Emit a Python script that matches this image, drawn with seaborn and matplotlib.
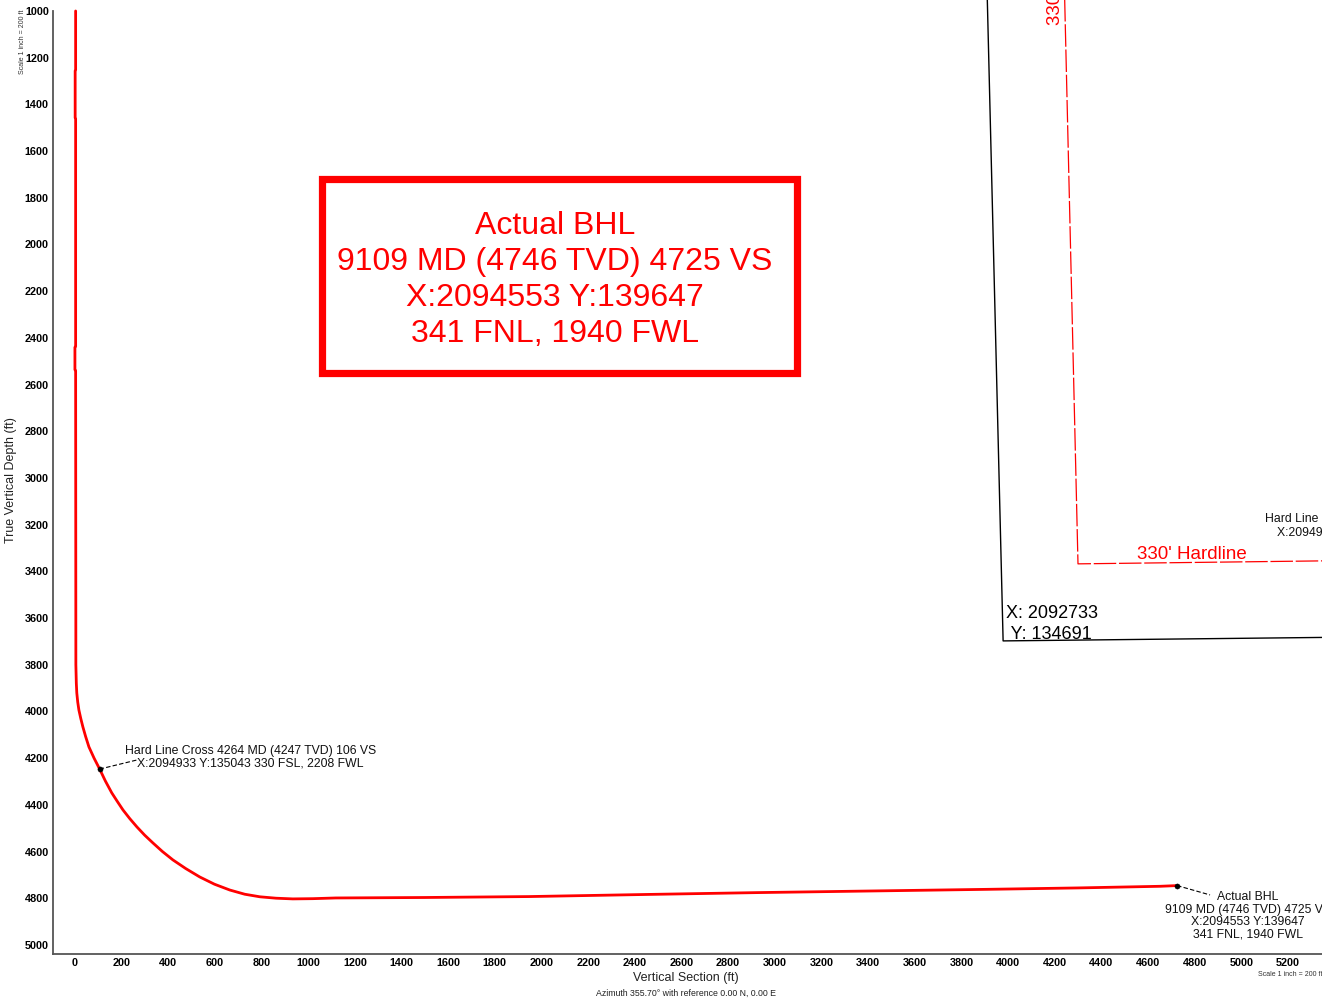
import matplotlib
matplotlib.use("Agg")
import matplotlib.pyplot as plt
import seaborn as sns
import pandas as pd
from matplotlib.patches import Rectangle

# ---------------- data ----------------
well_vs = [3, 3, 1, 1, 3, 3, 0, 0, 3, 4, 6, 8, 12, 17, 25, 34, 46, 60, 82, 106, 131, 158,
           182, 206, 235, 266, 299, 334, 375, 420, 475, 535, 598, 664, 728, 793, 862, 934,
           1020, 1118, 1500, 1947, 2450, 2928, 3420, 3914, 4300, 4652, 4725]
well_tvd = [1000, 1253, 1256, 1458, 1461, 2437, 2440, 2537, 2540, 3800, 3880, 3921, 3960,
            3994, 4030, 4066, 4108, 4152, 4200, 4247, 4299, 4349, 4386, 4422, 4459, 4495,
            4530, 4563, 4600, 4636, 4673, 4709, 4740, 4765, 4783, 4794, 4800, 4803, 4802,
            4799, 4797, 4793, 4784, 4776, 4769, 4762, 4756, 4749, 4746]

lease_vs = [3905, 3979, 5450]
lease_tvd = [700, 3698, 3682]

hard_vs = [4237, 4300, 5450]
hard_tvd = [700, 3368, 3354]

point_names = ["Hard Line Cross", "Actual BHL"]
point_vs = [106, 4725]
point_tvd = [4247, 4746]

x_ticks = list(range(0, 5400, 200))
y_ticks = list(range(1000, 5200, 200))

hlc_text = "Hard Line Cross 4264 MD (4247 TVD) 106 VS\nX:2094933 Y:135043 330 FSL, 2208 FWL"
bhl_text = "Actual BHL\n9109 MD (4746 TVD) 4725 VS\nX:2094553 Y:139647\n341 FNL, 1940 FWL"
corner_text = "X: 2092733\n Y: 134691"

# ---------------- style ----------------
sns.set_style("white")
plt.rcParams["font.family"] = ["Liberation Sans", "DejaVu Sans"]

W, H = 1322, 1000
fig = plt.figure(figsize=(W / 100, H / 100), dpi=100)
ax = fig.add_axes([53 / W, 46 / H, 1269 / W, 954 / H])
ax.set_xlim(-94, 5346)
ax.set_ylim(5039, 953)

well = pd.DataFrame({"vs": well_vs, "tvd": well_tvd})
sns.lineplot(data=well, x="vs", y="tvd", sort=False, estimator=None, color="#ff0000",
             lw=2.0, ax=ax, zorder=5)

lease = pd.DataFrame({"vs": lease_vs, "tvd": lease_tvd})
sns.lineplot(data=lease, x="vs", y="tvd", sort=False, estimator=None, color="black",
             lw=1.0, ax=ax, zorder=3)

hard = pd.DataFrame({"vs": hard_vs, "tvd": hard_tvd})
sns.lineplot(data=hard, x="vs", y="tvd", sort=False, estimator=None, color="#ff0000",
             lw=0.9, ax=ax, zorder=3)
ax.lines[-1].set_dashes((18, 2.2))

pts = pd.DataFrame({"name": point_names, "vs": point_vs, "tvd": point_tvd})
sns.scatterplot(data=pts, x="vs", y="tvd", color="black", s=14, edgecolor="black",
                ax=ax, zorder=6, legend=False)

# leader lines
ax.plot([point_vs[0], 266], [point_tvd[0], 4208], ls=(0, (4, 2)), color="black", lw=0.8, zorder=6)
ax.plot([point_vs[1], 4866], [point_tvd[1], 4786], ls=(0, (4, 2)), color="black", lw=0.8, zorder=6)

# annotations
ax.text(752, 4197, hlc_text, ha="center", va="center", fontsize=8.8, color="#111111",
        linespacing=1.1)
ax.text(5640, 3204, hlc_text, ha="center", va="center", fontsize=8.8, color="#111111",
        linespacing=1.1, clip_on=False)
ax.text(5029, 4876, bhl_text, ha="center", va="center", fontsize=8.8, color="#111111",
        linespacing=1.07, clip_on=False)
ax.text(4790, 3326, "330' Hardline", ha="center", va="center", fontsize=13.5, color="#ff0000")
ax.text(4205, 1060, "330' Hardline", ha="center", va="bottom", rotation=90,
        fontsize=13.5, color="#ff0000", clip_on=False)
ax.text(3990, 3626, corner_text, ha="left", va="center", fontsize=13, color="black",
        linespacing=1.3)

# big red box
fig.patches.append(Rectangle((321.5 / W, 1 - 372.5 / H), 475 / W, 194 / H,
                             transform=fig.transFigure, fill=False,
                             edgecolor="#ff0000", lw=5.2, zorder=7))
fig.text(555 / W, 1 - 280 / H, bhl_text, ha="center", va="center", fontsize=23,
         color="#ff0000", linespacing=1.27)

# axes styling
for s in ["top", "right"]:
    ax.spines[s].set_visible(False)
for s in ["left", "bottom"]:
    ax.spines[s].set_color("#555555")
    ax.spines[s].set_linewidth(1.3)
ax.spines["left"].set_bounds(1000, 5039)

ax.set_xticks(x_ticks)
ax.set_yticks(y_ticks)
ax.set_xticklabels([str(v) for v in x_ticks])
ax.set_yticklabels([str(v) for v in y_ticks])
ax.tick_params(direction="in", length=3.5, width=1, color="#333333", labelsize=7.8,
               labelcolor="black")
ax.tick_params(axis="x", pad=3)
ax.tick_params(axis="y", pad=3)
for lbl in ax.get_xticklabels() + ax.get_yticklabels():
    lbl.set_fontweight("bold")

ax.set_xlabel("Vertical Section (ft)", fontsize=9, color="#222222")
ax.set_ylabel("True Vertical Depth (ft)", fontsize=9, color="#222222")
ax.xaxis.set_label_coords((686 - 53) / 1269, (954 - 972) / 954)
ax.yaxis.set_label_coords((17 - 53) / 1269, (954 - 480) / 954)

fig.text(686 / W, 1 - 993 / H, "Azimuth 355.70° with reference 0.00 N, 0.00 E",
         ha="center", va="center", fontsize=6.3, color="#222222")
fig.text(1290 / W, 1 - 975 / H, "Scale 1 inch = 200 ft", ha="center", va="center",
         fontsize=5, color="#333333")
fig.text(22 / W, 1 - 42 / H, "Scale 1 inch = 200 ft", ha="center", va="center",
         rotation=90, fontsize=5, color="#333333")

fig.savefig("out.png", dpi=100)
